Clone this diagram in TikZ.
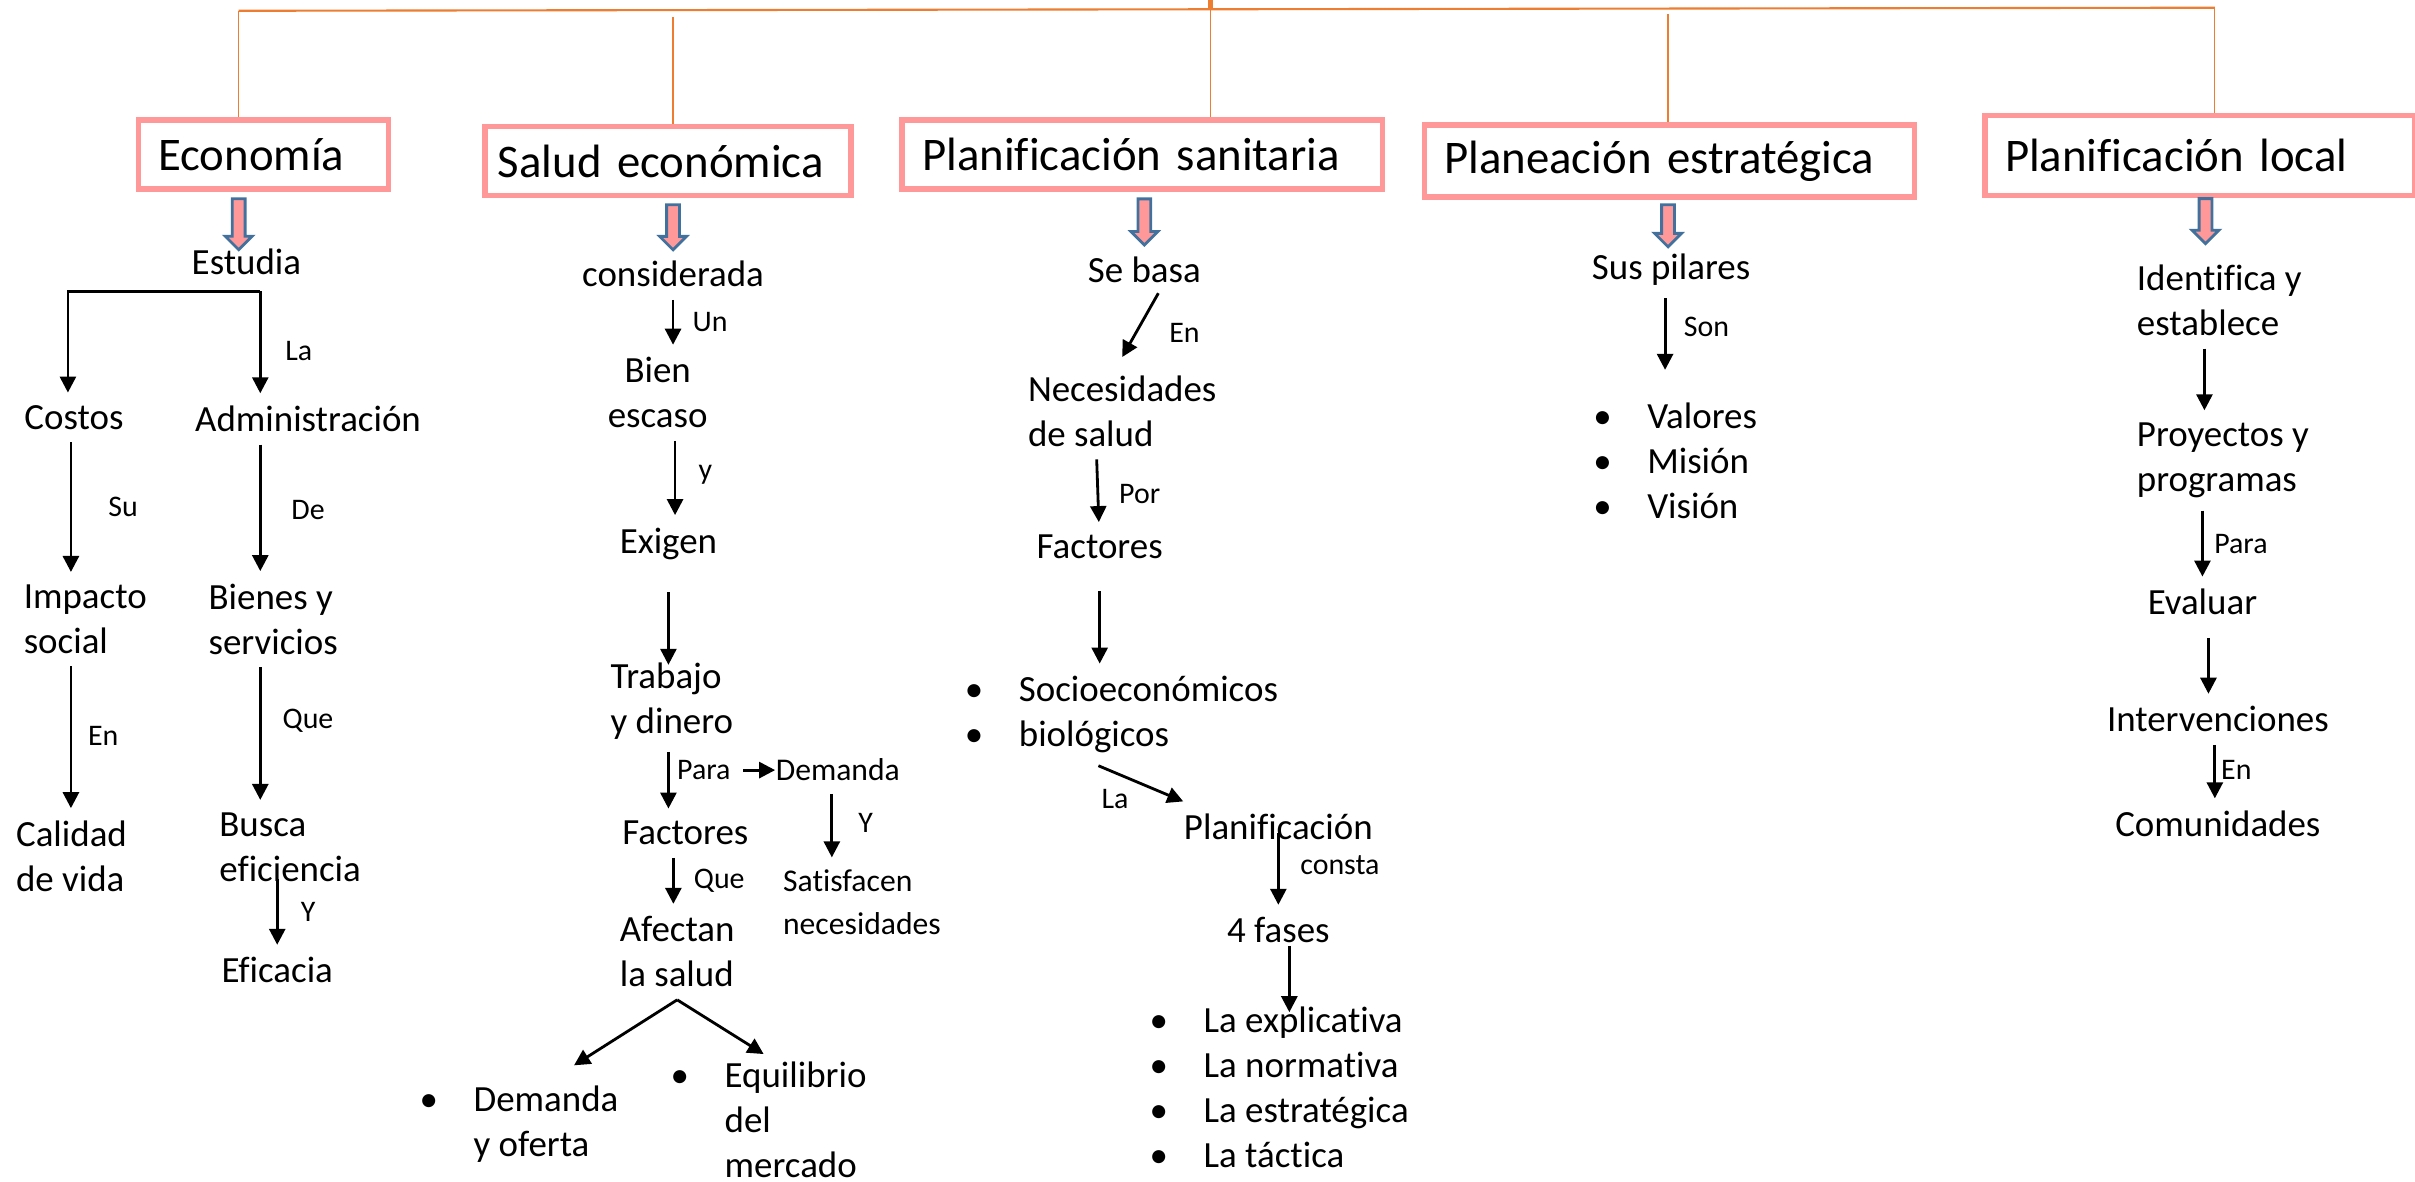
\documentclass[tikz,border=0pt]{standalone}
\usepackage{fontspec}
\setmainfont{Carlito}[Ligatures=NoCommon]
\usetikzlibrary{shapes.arrows, arrows.meta, positioning, calc}
\definecolor{headpink}{RGB}{255,153,153}
\definecolor{busorange}{RGB}{237,125,49}
\definecolor{arrowblue}{RGB}{65,113,156}
\newlength{\bulw}
\setlength{\bulw}{0.54cm}
\newcommand{\itm}[1]{\makebox[\bulw][l]{\textbullet}#1}
\tikzset{headbox/.style={draw=headpink, line width=1.6pt, anchor=west, inner xsep=0.2cm, inner ysep=0pt, align=left, font=\fontsize{13.3}{16}\selectfont}}
\tikzset{txt/.style={inner xsep=0pt, inner ysep=0.12cm, align=left, font=\fontsize{10.5}{12.8}\selectfont}}
\tikzset{smalltxt/.style={txt, font=\fontsize{9}{12.2}\selectfont}}
\tikzset{lbl/.style={inner sep=0pt, font=\fontsize{8.5}{10}\selectfont}}
\tikzset{arr/.style={line width=0.8pt, -{Triangle[length=0.16cm, width=0.16cm]}}}
\tikzset{bus/.style={color=busorange, line width=0.6pt}}
\tikzset{drop/.style={color=busorange, line width=0.4pt}}
\tikzset{blockarrow/.style={single arrow, shape border rotate=270, draw=arrowblue, fill=headpink, line width=0.8pt, inner sep=0.05cm, minimum width=0.25cm, single arrow head extend=0.07cm}}

\begin{document}
\begin{tikzpicture}[x=0.0154cm, y=-0.0154cm]
    \useasboundingbox (0,0) rectangle (1568,767);

    \node [headbox, text width=2.1cm, minimum height=0.69cm] (HEco) at (88,100.5) {Economía};
    \node [headbox, inner xsep=0.13cm, text width=3.4cm, minimum height=0.69cm] (HSal) at (313,104.5) {Salud económica};
    \node [headbox, text width=4.4cm, minimum height=0.69cm] (HSan) at (584,100.5) {Planificación sanitaria};
    \node [headbox, text width=4.5cm, minimum height=0.72cm] (HPla) at (923,104.5) {Planeación estratégica};
    \node [headbox, text width=3.9cm, minimum height=0.80cm] (HLoc) at (1287,101) {Planificación local};

    \coordinate (B0) at (786,0);
    \coordinate (B1) at (155,7);
    \coordinate (B2) at (437,11);
    \coordinate (B3) at (786,6);
    \coordinate (B4) at (1083,9);
    \coordinate (B5) at (1438,5);
    \draw [bus] (B1) -- (B5);
    \draw [bus, line width=1.2pt] (B0) -- (B3);
    \draw [drop] (B1) -- (B1 |- HEco.north);
    \draw [drop] (B2) -- (B2 |- HSal.north);
    \draw [drop] (B3) -- (B3 |- HSan.north);
    \draw [drop] (B4) -- (B4 |- HPla.north);
    \draw [drop] (B5) -- (B5 |- HLoc.north);

    \node [blockarrow, minimum height=0.51cm] (AEco) at (155,143.5) {};
    \node [blockarrow, minimum height=0.45cm] (ASal) at (437,145.5) {};
    \node [blockarrow, minimum height=0.46cm] (ASan) at (743,142) {};
    \node [blockarrow, minimum height=0.42cm] (APla) at (1083,144.5) {};
    \node [blockarrow, minimum height=0.45cm] (ALoc) at (1432,141.5) {};

    % Economia
    \node [txt] (EStudia) at (160,170) {Estudia};
    \node [txt] (ECostos) at (48,271) {Costos};
    \node [txt] (EAdmin) at (200,272) {Administración};
    \node [txt, anchor=west] (EImpacto) at (15,402) {Impacto\\social};
    \node [txt, anchor=west] (EBienes) at (135,402) {Bienes y\\servicios};
    \node [txt, anchor=west] (ECalidad) at (10,556) {Calidad\\de vida};
    \node [txt, anchor=west] (EBusca) at (142,550) {Busca\\eficiencia};
    \node [txt] (EEficacia) at (180,630) {Eficacia};
    \node [lbl] (ELa) at (194,228) {La};
    \node [lbl] (ESu) at (80,329) {Su};
    \node [lbl] (EDe) at (200,331) {De};
    \node [lbl] (EEn) at (67,478) {En};
    \node [lbl] (EQue) at (200,468) {Que};
    \node [lbl] (EY) at (200,592) {Y};
    \coordinate (ESplit) at (169,189);
    \draw [arr] (ESplit) -| ([xshift=-0.06cm]ECostos.north);
    \draw [arr] (ESplit) -- (ESplit |- EAdmin.north);
    \draw [arr] ([xshift=-0.03cm]ECostos.south) -- ([xshift=-0.03cm]ECostos.south |- EImpacto.north);
    \draw [arr] (ESplit |- EAdmin.south) -- (ESplit |- EBienes.north);
    \draw [arr] ([xshift=-0.03cm]ECostos.south |- EImpacto.south) -- ([xshift=-0.03cm]ECostos.south |- ECalidad.north);
    \draw [arr] (ESplit |- EBienes.south) -- (ESplit |- EBusca.north);
    \draw [arr] ([yshift=0.15cm]EBusca.south -| EEficacia) -- (EEficacia);

    % Salud economica
    \node [txt] (SCons) at (437,178) {considerada};
    \node [txt, align=center] (SBien) at (427,255) {Bien\\escaso};
    \node [txt] (SExigen) at (434,353) {Exigen};
    \node [txt, anchor=west] (STrabajo) at (396,455) {Trabajo\\y dinero};
    \node [txt] (SFactores) at (445,541) {Factores};
    \node [txt, anchor=west] (SAfectan) at (402,618) {Afectan\\la salud};
    \node [smalltxt] (SDemanda) at (544,500) {Demanda};
    \node [smalltxt, anchor=west] (SSatis) at (508,586) {Satisfacen\\necesidades};
    \node [txt, anchor=west] (SDemOf) at (272,730) {\itm{Demanda}\\\hspace*{\bulw}y oferta};
    \node [txt, anchor=west] (SEquil) at (435,727) {\itm{Equilibrio}\\\hspace*{\bulw}del\\\hspace*{\bulw}mercado};
    \node [lbl] (SUn) at (461,209) {Un};
    \node [lbl] (Sy) at (458,308) {y};
    \node [lbl] (SPara) at (457,500) {Para};
    \node [lbl] (SY) at (562,534) {Y};
    \node [lbl] (SQue) at (467,572) {Que};
    \draw [arr] (SCons) -- (SCons |- SBien.north);
    \draw [arr] ([xshift=0.02cm]SCons.south |- SBien.south) -- ([xshift=0.02cm]SCons.south |- SExigen.north);
    \draw [arr, shorten <=0.2cm, shorten >=-0.15cm] (SExigen) -- (SExigen |- STrabajo.north);
    \draw [arr] (SExigen |- STrabajo.south) -- (SExigen |- SFactores.north);
    \draw [arr, shorten <=0.12cm] (SPara) -- (SDemanda);
    \draw [arr] ([xshift=-0.06cm]SDemanda.south) -- ([xshift=-0.06cm]SDemanda.south |- SSatis.north);
    \draw [arr] ([xshift=-0.12cm]SFactores.south) -- ([xshift=-0.12cm]SFactores.south |- SAfectan.north);
    \draw [arr] (SAfectan.south) -- ([xshift=0.55cm, yshift=0.08cm]SDemOf.north);
    \draw [arr] (SAfectan.south) -- ([xshift=-0.05cm, yshift=-0.05cm]SEquil.north);

    % Planificacion sanitaria
    \node [txt] (PSeBasa) at (743,175) {Se basa};
    \node [txt, anchor=west] (PNec) at (667,267) {Necesidades\\de salud};
    \node [txt] (PFact) at (714,355) {Factores};
    \node [txt, anchor=west] (PSocio) at (626,464) {\itm{Socioeconómicos}\\\itm{biológicos}};
    \node [txt] (PPlan) at (830,537) {Planificación};
    \node [txt] (PFases) at (830,604) {4 fases};
    \node [txt, anchor=west] (PList) at (746,706) {\itm{La explicativa}\\\itm{La normativa}\\\itm{La estratégica}\\\itm{La táctica}};
    \node [lbl] (PEn) at (769,216) {En};
    \node [lbl] (PPor) at (740,321) {Por};
    \node [lbl] (PLa) at (724,519) {La};
    \node [lbl] (PConsta) at (870,562) {consta};
    \draw [arr] ([shift={(0.14cm,0.02cm)}]PSeBasa.south) -- ([yshift=0.06cm]PNec.north);
    \draw [arr] ([xshift=-0.03cm]PFact.north |- PNec.south) -- (PFact);
    \draw [arr, shorten <=0.2cm] (PFact) -- (PFact |- PSocio.north);
    \draw [arr] ([xshift=-0.23cm]PSocio.south) -- (PPlan.north west);
    \draw [arr] ([yshift=0.2cm]PPlan.south) -- (PPlan.south |- PFases.north);
    \draw [arr, shorten >=-0.18cm] ([shift={(0.11cm,0.1cm)}]PFases.south) -- ([xshift=0.11cm]PFases.south |- PList.north);

    % Planeacion estrategica
    \node [txt] (QSus) at (1085,175) {Sus pilares};
    \node [txt, anchor=west] (QList) at (1034,299) {\itm{Valores}\\\itm{Misión}\\\itm{Visión}};
    \node [lbl] (QSon) at (1108,212) {Son};
    \draw [arr, shorten >=0.2cm] ([xshift=-0.06cm]QSus.south) -- ([xshift=-0.06cm]QSus.south |- QList.north);

    % Planificacion local
    \node [txt, anchor=west] (LIdent) at (1387,195) {Identifica y\\establece};
    \node [txt, anchor=west] (LProy) at (1387,299) {Proyectos y\\programas};
    \node [txt] (LEval) at (1430,391) {Evaluar};
    \node [txt] (LInter) at (1440,467) {Intervenciones};
    \node [txt] (LCom) at (1440,535) {Comunidades};
    \node [lbl] (LPara) at (1455,353) {Para};
    \node [lbl] (LEn) at (1452,500) {En};
    \draw [arr] ([xshift=0.02cm]LEval.north |- LIdent.south) -- ([xshift=0.02cm]LEval.north |- LProy.north);
    \draw [arr] (LEval |- LProy.south) -- (LEval);
    \draw [arr, shorten <=0.1cm] ([xshift=0.06cm]LEval.south) -- ([xshift=0.06cm]LEval.south |- LInter.north);
    \draw [arr] ([xshift=-0.03cm]LInter.south) -- ([xshift=-0.03cm]LCom.north);
\end{tikzpicture}
\end{document}
